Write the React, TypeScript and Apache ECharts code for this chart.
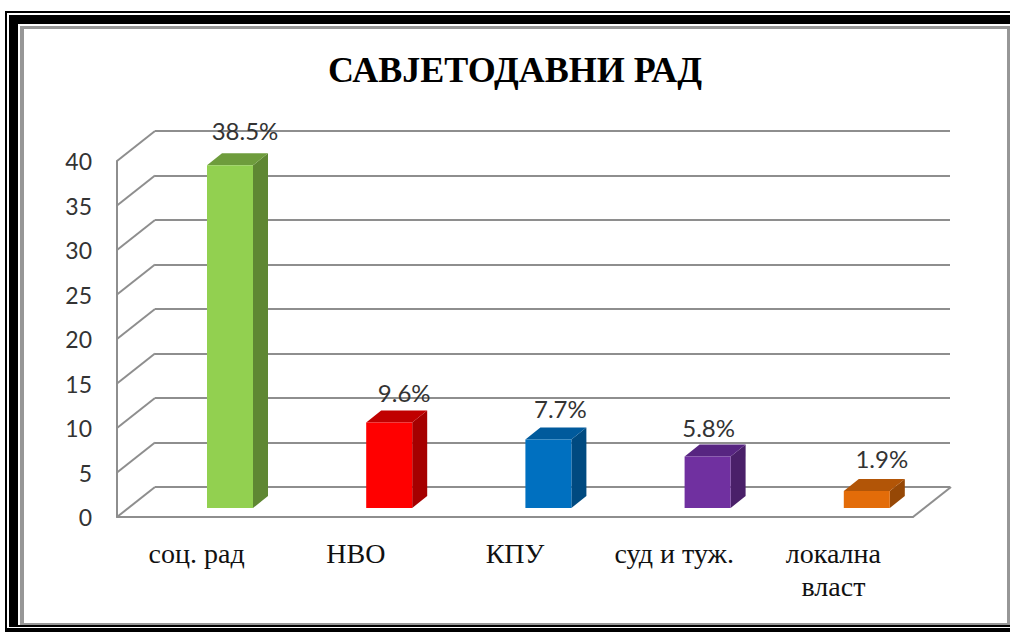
import React, { useEffect, useRef } from "react";
import * as echarts from "echarts";

const titleText = "САВЈЕТОДАВНИ РАД";
const categories = ["соц. рад", "НВО", "КПУ", "суд и туж.", "локална\nвласт"];
const values = [38.5, 9.6, 7.7, 5.8, 1.9];
const yTicks = [0, 5, 10, 15, 20, 25, 30, 35, 40];
const frontColors = ["#92D050", "#FF0000", "#0070C0", "#7030A0", "#E36C09"];
const topColors = ["#6E9C3C", "#C00000", "#005A9C", "#572581", "#B25507"];
const sideColors = ["#5F8733", "#A50000", "#004A80", "#4A2069", "#964806"];
const labelNudgeX = [15, 15, 12, 1, 15];
const labelNudgeY = [-35, -30, -31, -29, -33];

const GRAY = "#8E8E8E";
const WALL_DX = 38;
const WALL_DY = -30;
const BAR_DX = 15;
const BAR_DY = -12;
const BAR_W = 46;

const frame = (x: number, y: number, bottom: number, fill: string) => ({
  type: "rect",
  z: -10,
  silent: true,
  shape: { x, y, width: 1030 - x, height: bottom - y },
  style: { fill },
});

export default function App() {
  const ref = useRef<HTMLDivElement>(null);
  useEffect(() => {
    document.body.style.margin = "0";
    const chart = echarts.init(ref.current!, null, { renderer: "svg" });
    chart.setOption({
      animation: false,
      backgroundColor: "#FFFFFF",
      title: {
        text: titleText,
        left: 510,
        top: 47,
        textAlign: "center",
        textStyle: {
          fontFamily: "Liberation Serif",
          fontWeight: "bold",
          fontSize: 36,
          color: "#000000",
        },
      },
      graphic: {
        elements: [
          frame(5, 11, 640, "#000000"),
          frame(7, 13, 628, "#FFFFFF"),
          frame(9, 15, 627, "#000000"),
          frame(18, 24, 625, "#FFFFFF"),
          frame(20, 26, 625, "#979797"),
          {
            type: "rect",
            z: -9,
            silent: true,
            shape: { x: 24, y: 29, width: 983, height: 594 },
            style: { fill: "#FFFFFF" },
          },
        ],
      },
      grid: [
        { left: 117, top: 161, width: 796, height: 356 },
        { left: 155, top: 131, width: 795, height: 356 },
      ],
      xAxis: [
        {
          type: "category",
          gridIndex: 0,
          data: categories,
          axisTick: { show: false },
          axisLine: { lineStyle: { color: GRAY, width: 2 } },
          axisLabel: {
            interval: 0,
            margin: 20,
            fontFamily: "Liberation Serif",
            fontSize: 28,
            lineHeight: 33,
            color: "#111111",
          },
        },
        { type: "category", gridIndex: 1, data: categories, show: false },
      ],
      yAxis: [
        {
          type: "value",
          gridIndex: 0,
          min: 0,
          max: 40,
          interval: 5,
          axisLine: { show: true, lineStyle: { color: GRAY, width: 2 } },
          axisTick: { show: false },
          splitLine: { show: false },
          axisLabel: {
            margin: 25,
            fontFamily: "Lato",
            fontSize: 23,
            color: "#333333",
          },
        },
        {
          type: "value",
          gridIndex: 1,
          min: 0,
          max: 40,
          interval: 5,
          axisLine: { show: false },
          axisTick: { show: false },
          axisLabel: { show: false },
          splitLine: { show: true, lineStyle: { color: GRAY, width: 2 } },
        },
      ],
      series: [
        {
          type: "custom",
          name: "walls",
          xAxisIndex: 0,
          yAxisIndex: 0,
          silent: true,
          z: 1,
          data: yTicks.map((t) => [t]),
          encode: { y: 0 },
          renderItem: (params: any, api: any) => {
            const sys = params.coordSys;
            const y = api.coord([0, api.value(0)])[1];
            const lines: any[] = [
              {
                type: "line",
                shape: { x1: sys.x, y1: y, x2: sys.x + WALL_DX, y2: y + WALL_DY },
                style: { stroke: GRAY, lineWidth: 2 },
              },
            ];
            if (api.value(0) === 0) {
              lines.push({
                type: "line",
                shape: {
                  x1: sys.x + sys.width,
                  y1: y,
                  x2: sys.x + sys.width + WALL_DX,
                  y2: y + WALL_DY,
                },
                style: { stroke: GRAY, lineWidth: 2 },
              });
            }
            return { type: "group", children: lines };
          },
        },
        {
          type: "custom",
          name: "bars",
          xAxisIndex: 0,
          yAxisIndex: 0,
          silent: true,
          z: 3,
          data: values.map((v, i) => [i, v]),
          encode: { x: 0, y: 1 },
          renderItem: (params: any, api: any) => {
            const i = params.dataIndex;
            const v = api.value(1);
            const [cx, yTop0] = api.coord([i, v]);
            const yBase0 = api.coord([i, 0])[1];
            const x0 = cx + 10.4;
            const x1 = x0 + BAR_W;
            const yTop = yTop0 - 9;
            const yBase = yBase0 - 9;
            return {
              type: "group",
              children: [
                {
                  type: "polygon",
                  shape: {
                    points: [
                      [x1, yTop],
                      [x1 + BAR_DX, yTop + BAR_DY],
                      [x1 + BAR_DX, yBase + BAR_DY],
                      [x1, yBase],
                    ],
                  },
                  style: { fill: sideColors[i] },
                },
                {
                  type: "polygon",
                  shape: {
                    points: [
                      [x0, yTop],
                      [x0 + BAR_DX, yTop + BAR_DY],
                      [x1 + BAR_DX, yTop + BAR_DY],
                      [x1, yTop],
                    ],
                  },
                  style: { fill: topColors[i] },
                },
                {
                  type: "rect",
                  shape: { x: x0, y: yTop, width: BAR_W, height: yBase - yTop },
                  style: { fill: frontColors[i] },
                },
                {
                  type: "text",
                  style: {
                    text: `${v.toFixed(1)}%`,
                    x: x0 + BAR_W / 2 + labelNudgeX[i],
                    y: yTop + labelNudgeY[i],
                    align: "center",
                    verticalAlign: "middle",
                    fontFamily: "Lato",
                    fontSize: 24,
                    fill: "#333333",
                  },
                },
              ],
            };
          },
        },
      ],
    });
    return () => chart.dispose();
  }, []);
  return (
    <div
      ref={ref}
      style={{ position: "absolute", left: 0, top: 0, width: 1010, height: 632 }}
    />
  );
}
